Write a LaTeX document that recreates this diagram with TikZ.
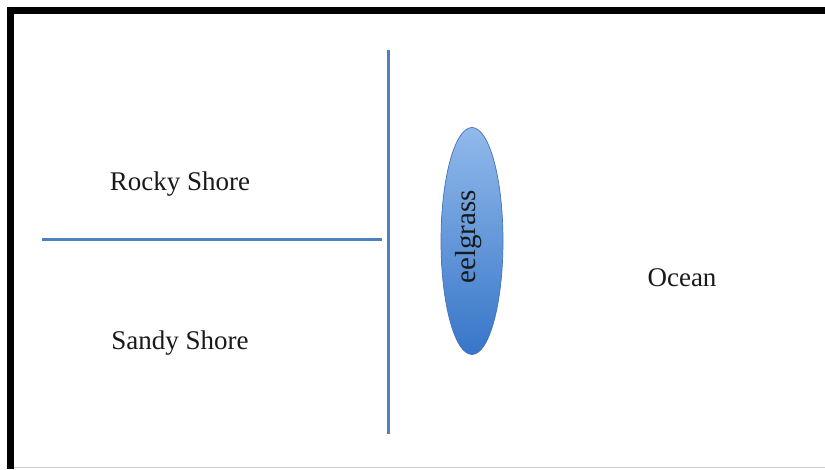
\documentclass[tikz,border=0pt]{standalone}
\usepackage{fontspec}
\setmainfont{Liberation Serif}
\usepackage{tikz}
\usetikzlibrary{shapes.geometric,positioning}

\definecolor{shoreblue}{RGB}{79,129,189}
\definecolor{grasstop}{RGB}{145,185,235}
\definecolor{grassbottom}{RGB}{55,118,200}
\definecolor{grassedge}{RGB}{68,114,182}

\begin{document}
\begin{tikzpicture}[x=1pt, y=-1pt,
        frame/.style={draw=black, line width=7pt},
        shoreline/.style={draw=shoreblue, line width=3pt},
        zone/.style={font=\fontsize{27}{30}\selectfont, text=black!90, inner sep=0pt},
        grass/.style={
            ellipse, draw=grassedge, line width=0.7pt,
            top color=grasstop, bottom color=grassbottom,
            minimum width=62pt, minimum height=227pt, inner sep=0pt
          },
      ]
      \useasboundingbox (0, 0) rectangle (825, 469);

      % Frame
      \draw [frame] (10.5, 469) -- (10.5, 10.5) -- (825, 10.5);
      \draw [draw=black!20, line width=1pt] (14, 467) -- (825, 467);

      % Shore lines
      \coordinate (coasttop) at (388, 50);
      \coordinate (coastbottom) at (388, 434);
      \coordinate (splitleft) at (42, 239);
      \coordinate (splitright) at (382, 239);
      \draw [shoreline] (coasttop) -- (coastbottom);
      \draw [shoreline] (splitleft) -- (splitright);

      % Zones
      \node [zone] (rocky) at (180, 184) {Rocky Shore};
      \node [zone] (sandy) at (180, 343) {Sandy Shore};
      \node [zone] (ocean) at (682, 278) {Ocean};

      % Eelgrass bed
      \node [grass] (eelgrass) at (472, 241) {};
      \node [zone, rotate=90, font=\fontsize{29}{30}\selectfont] (eelgrasslabel) at (469, 237) {eelgrass};
    \end{tikzpicture}
\end{document}
